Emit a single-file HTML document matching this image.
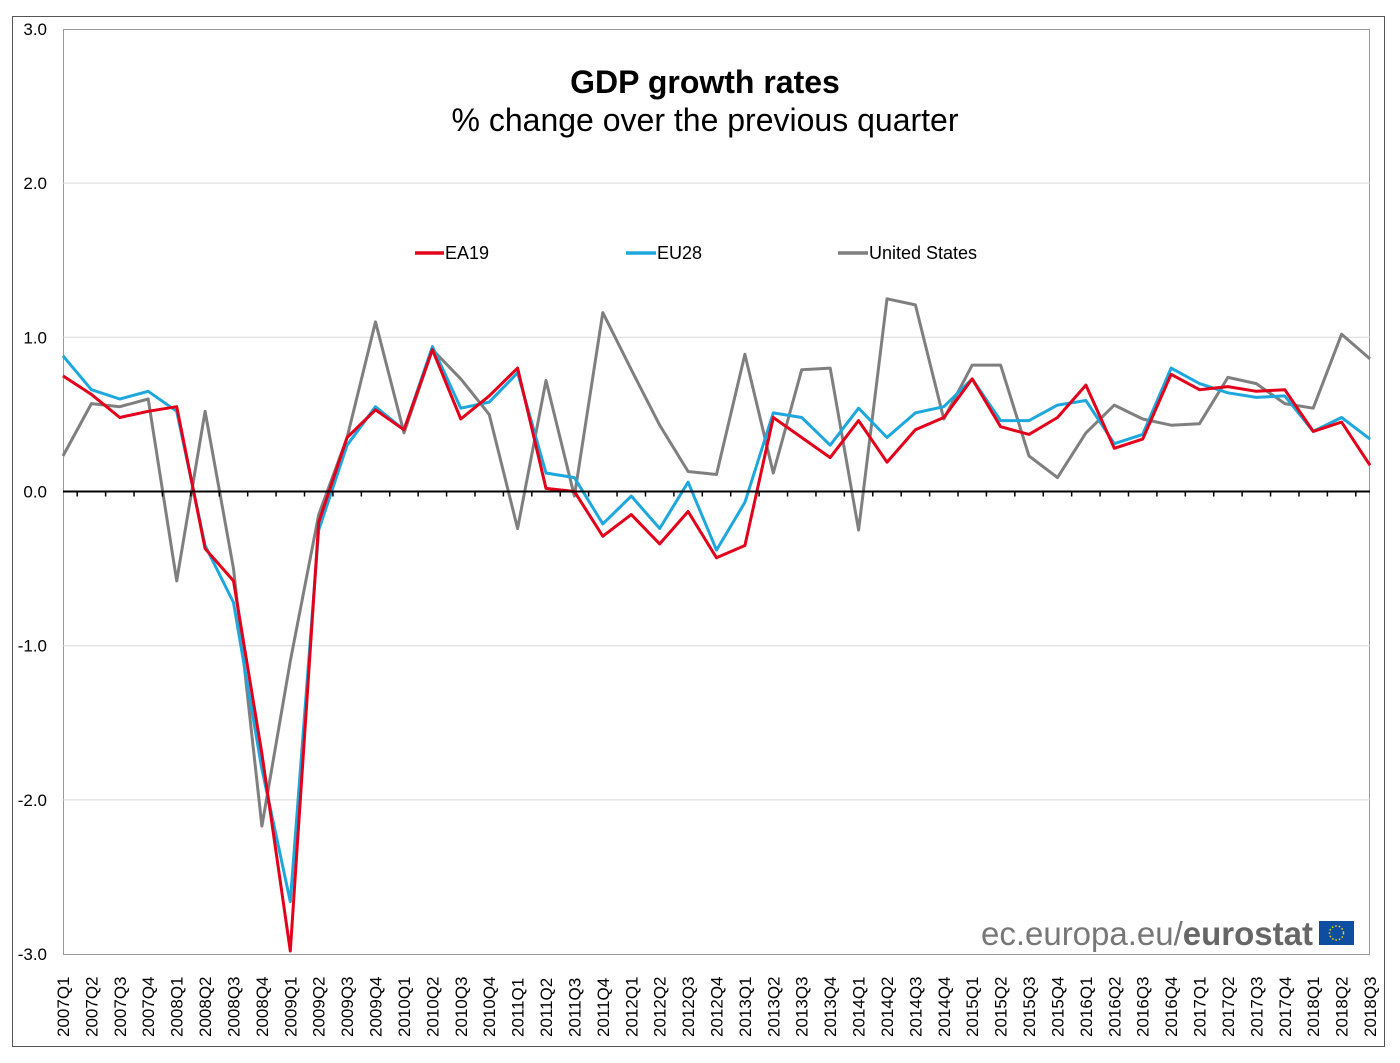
<!DOCTYPE html>
<html><head><meta charset="utf-8"><style>
html,body{margin:0;padding:0;background:#fff;}
svg text{font-family:"Liberation Sans",Arial,sans-serif;}
</style></head><body>
<svg id="s" width="1400" height="1058" xmlns="http://www.w3.org/2000/svg">
<rect x="12.5" y="16.5" width="1372" height="1030" fill="#fff" stroke="#555" stroke-width="1"/>
<rect x="63.5" y="29.5" width="1306" height="925" fill="none" stroke="#999" stroke-width="1"/>
<g id="grid"></g>
<text x="705" y="93" text-anchor="middle" font-size="32" font-weight="bold" fill="#000">GDP growth rates</text>
<text x="705" y="131" text-anchor="middle" font-size="32" fill="#000">% change over the previous quarter</text>
<line x1="415" y1="253" x2="444" y2="253" stroke="#e2001a" stroke-width="3.5"/>
<text x="445" y="259" font-size="18">EA19</text>
<line x1="626" y1="253" x2="656" y2="253" stroke="#1ea7dc" stroke-width="3.5"/>
<text x="657" y="259" font-size="18">EU28</text>
<line x1="838" y1="253" x2="868" y2="253" stroke="#7f7f7f" stroke-width="3.5"/>
<text x="869" y="259" font-size="18">United States</text>
<g id="series"></g>
<text x="1313" y="945" text-anchor="end" font-size="33" fill="#777">ec.europa.eu/<tspan font-weight="bold" fill="#666">eurostat</tspan></text>
<rect x="1319" y="921" width="35" height="24" fill="#0d4ea0"/>
<circle cx="1336.5" cy="933" r="7" fill="none" stroke="#ffd600" stroke-width="1.5" stroke-dasharray="1.5 2"/>
</svg>
<script>
var NS="http://www.w3.org/2000/svg";
function el(t,a,p,txt){var e=document.createElementNS(NS,t);for(var k in a)e.setAttribute(k,a[k]);if(txt)e.textContent=txt;p.appendChild(e);return e;}
var x0=63,x1=1370,dx=(x1-x0)/46;function X(i){return x0+i*dx;}
function Y(v){return 491.5-v*154.2;}
var g=document.getElementById('grid'),s=document.getElementById('series');
[3,2,1,0,-1,-2,-3].forEach(function(v){
 if(v!==0&&v!==3&&v!==-3)el('line',{x1:63,x2:1370,y1:Y(v),y2:Y(v),stroke:'#d9d9d9','stroke-width':1},g);
 el('text',{x:47,y:Y(v)+6,'text-anchor':'end','font-size':17},g,v.toFixed(1));
});
var ea=[0.75,0.63,0.48,0.52,0.55,-0.37,-0.58,-1.7,-2.98,-0.2,0.35,0.53,0.4,0.92,0.47,0.62,0.8,0.02,0.0,-0.29,-0.15,-0.34,-0.13,-0.43,-0.35,0.48,0.35,0.22,0.46,0.19,0.4,0.48,0.73,0.42,0.37,0.48,0.69,0.28,0.34,0.76,0.66,0.68,0.65,0.66,0.39,0.45,0.17];
var eu=[0.88,0.66,0.6,0.65,0.52,-0.35,-0.72,-1.8,-2.66,-0.25,0.3,0.55,0.4,0.94,0.54,0.58,0.77,0.12,0.09,-0.21,-0.03,-0.24,0.06,-0.38,-0.07,0.51,0.48,0.3,0.54,0.35,0.51,0.55,0.73,0.46,0.46,0.56,0.59,0.31,0.37,0.8,0.7,0.64,0.61,0.62,0.39,0.48,0.34];
var us=[0.23,0.57,0.55,0.6,-0.58,0.52,-0.5,-2.17,-1.1,-0.15,0.35,1.1,0.38,0.92,0.73,0.5,-0.24,0.72,-0.03,1.16,0.79,0.43,0.13,0.11,0.89,0.12,0.79,0.8,-0.25,1.25,1.21,0.47,0.82,0.82,0.23,0.09,0.38,0.56,0.47,0.43,0.44,0.74,0.7,0.57,0.54,1.02,0.86];
function line(d,c){el('polyline',{points:d.map(function(v,i){return X(i).toFixed(1)+','+Y(v).toFixed(1)}).join(' '),fill:'none',stroke:c,'stroke-width':3,'stroke-linejoin':'round'},s);}
line(us,'#7f7f7f');line(eu,'#1ea7dc');line(ea,'#e2001a');
el('line',{x1:63,x2:1370,y1:Y(0),y2:Y(0),stroke:'#000','stroke-width':2},s);
for(var i=0;i<47;i++){
 var q=(i%4)+1,y=2007+Math.floor(i/4);
 if(i<46)el('line',{x1:X(i)+dx/2,x2:X(i)+dx/2,y1:Y(0),y2:Y(0)+5,stroke:'#000','stroke-width':1.5},s);
 el('text',{x:0,y:0,'font-size':17,transform:'translate('+(X(i)+6)+',1037) rotate(-90)'},s,y+'Q'+q);
}
</script>
</body></html>
